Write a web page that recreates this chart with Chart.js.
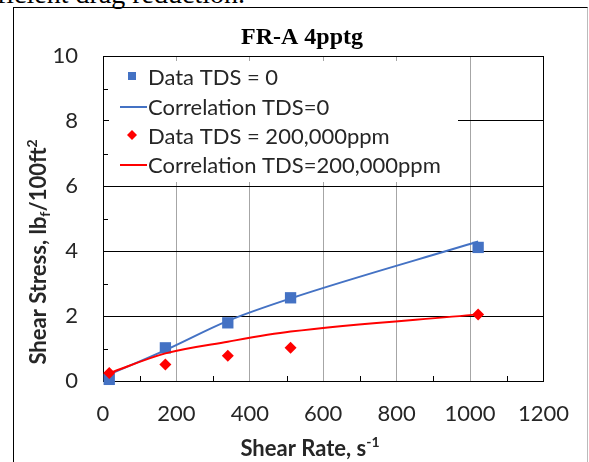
<!DOCTYPE html>
<html>
<head>
<meta charset="utf-8">
<script src="https://cdn.jsdelivr.net/npm/chart.js@4.4.1/dist/chart.umd.min.js"></script>
<style>
body { margin: 0; background: #fff; }
#wrap { position: relative; width: 589px; height: 462px; overflow: hidden; }
#above { position: absolute; top: -22px; left: 245px; transform: translateX(-100%); font: 28px "Liberation Serif"; white-space: nowrap; color: #000; }
#frame { position: absolute; left: 13px; top: 7px; width: 573px; height: 470px; border-left: 1px solid #000; border-top: 1px solid #000; border-right: 1px solid #bbb; }
#chart { position: absolute; left: 0; top: 0; }
</style>
</head>
<body>
<div id="wrap">
  <div id="above">efficient drag reduction.</div>
  <div id="frame"></div>
  <canvas id="chart" width="589" height="462"></canvas>
</div>
<script>
// values
const shearRate = [17, 170, 340, 511, 1022];
const dataTds0 = [0.05, 1.02, 1.79, 2.56, 4.11];
const corrTds0 = [0.2, 0.95, 1.85, 2.54, 4.29];
const dataTds200k = [0.25, 0.51, 0.78, 1.02, 2.05];
const corrTds200k = [0.24, 0.85, 1.21, 1.52, 2.05];

const seriesNames = ['Data TDS = 0', 'Correlation TDS=0', 'Data TDS = 200,000ppm', 'Correlation TDS=200,000ppm'];
const xTicks = [0, 200, 400, 600, 800, 1000, 1200];
const yTicks = [0, 2, 4, 6, 8, 10];
const xMinor = [100, 300, 500, 700, 900, 1100];
const yMinor = [1, 3, 5, 7, 9];

const blue = '#4472C4';
const red = '#FF0000';
const textColor = '#262626';

function points(ys) {
    return shearRate.map((x, i) => ({ x: x, y: ys[i] }));
}

// pieces of text that need sub/superscripts, drawn one after the other
function drawParts(ctx, parts, x, y) {
    let total = 0;
    parts.forEach(p => {
        ctx.font = p.font;
        p.w = ctx.measureText(p.text).width;
        total += p.w;
    });
    let cx = x - total / 2;
    parts.forEach(p => {
        ctx.font = p.font;
        ctx.fillText(p.text, cx, y + (p.dy || 0));
        cx += p.w;
    });
}

const decor = {
    id: 'decor',
    beforeDatasetsDraw(chart) {
        const ctx = chart.ctx;
        const xs = chart.scales.x;
        const ys = chart.scales.y;
        const area = chart.chartArea;
        ctx.save();

        // minor tick marks inside the plot
        ctx.strokeStyle = '#000';
        ctx.lineWidth = 1;
        ctx.beginPath();
        yMinor.forEach(v => {
            const py = Math.round(ys.getPixelForValue(v)) + 0.5;
            ctx.moveTo(area.left, py);
            ctx.lineTo(area.left + 5, py);
        });
        xMinor.forEach(v => {
            const px = Math.round(xs.getPixelForValue(v)) + 0.5;
            ctx.moveTo(px, area.bottom);
            ctx.lineTo(px, area.bottom - 5);
        });
        ctx.stroke();

        // legend with white background
        ctx.fillStyle = '#fff';
        ctx.fillRect(109, 61, 349, 121);

        const rows = [78, 108, 137, 166];
        ctx.fillStyle = blue;
        ctx.fillRect(128, rows[0] - 6, 8, 8);
        ctx.strokeStyle = blue;
        ctx.lineWidth = 2;
        ctx.beginPath();
        ctx.moveTo(120, rows[1] - 1);
        ctx.lineTo(147, rows[1] - 1);
        ctx.stroke();
        ctx.fillStyle = red;
        ctx.beginPath();
        ctx.moveTo(132, rows[2] - 7);
        ctx.lineTo(137, rows[2] - 2);
        ctx.lineTo(132, rows[2] + 3);
        ctx.lineTo(127, rows[2] - 2);
        ctx.closePath();
        ctx.fill();
        ctx.strokeStyle = red;
        ctx.beginPath();
        ctx.moveTo(120, rows[3] - 1);
        ctx.lineTo(147, rows[3] - 1);
        ctx.stroke();

        ctx.fillStyle = textColor;
        ctx.font = '22px Lato';
        ctx.textBaseline = 'middle';
        ctx.textAlign = 'left';
        seriesNames.forEach((name, i) => {
            ctx.fillText(name, 148, rows[i]);
        });
        ctx.restore();
    },
    afterDraw(chart) {
        const ctx = chart.ctx;
        ctx.save();
        ctx.fillStyle = '#000';
        ctx.font = 'bold 24px "Liberation Serif"';
        ctx.textAlign = 'center';
        ctx.textBaseline = 'middle';
        ctx.fillText('FR-A 4pptg', 302, 38);

        ctx.fillStyle = textColor;
        ctx.textAlign = 'left';
        ctx.textBaseline = 'alphabetic';
        drawParts(ctx, [
            { text: 'Shear Rate, s', font: 'bold 22px Lato' },
            { text: '-1', font: 'bold 14px Lato', dy: -9 }
        ], 310, 456);

        ctx.translate(46, 252);
        ctx.rotate(-Math.PI / 2);
        drawParts(ctx, [
            { text: 'Shear Stress, lb', font: 'bold 22px Lato' },
            { text: 'f', font: 'bold 14px Lato', dy: 4 },
            { text: '/100ft', font: 'bold 22px Lato' },
            { text: '2', font: 'bold 14px Lato', dy: -9 }
        ], 0, 0);
        ctx.restore();
    }
};

const ctx = document.getElementById('chart').getContext('2d');
const chart = new Chart(ctx, {
    type: 'scatter',
    data: {
        datasets: [{
            label: seriesNames[0],
            data: points(dataTds0),
            showLine: false,
            pointStyle: 'rect',
            pointRadius: 8,
            backgroundColor: blue,
            borderColor: blue,
            borderWidth: 0,
            clip: false,
            order: 4
        }, {
            label: seriesNames[1],
            data: points(corrTds0),
            showLine: true,
            pointRadius: 0,
            borderColor: blue,
            borderWidth: 2,
            cubicInterpolationMode: 'monotone',
            clip: false,
            order: 3
        }, {
            label: seriesNames[2],
            data: points(dataTds200k),
            showLine: false,
            pointStyle: 'rectRot',
            pointRadius: 6,
            backgroundColor: red,
            borderColor: red,
            borderWidth: 0,
            clip: false,
            order: 2
        }, {
            label: seriesNames[3],
            data: points(corrTds200k),
            showLine: true,
            pointRadius: 0,
            borderColor: red,
            borderWidth: 2,
            cubicInterpolationMode: 'monotone',
            clip: false,
            order: 1
        }]
    },
    options: {
        responsive: false,
        animation: false,
        layout: { padding: { left: 13, top: 56, right: 36, bottom: 0 } },
        plugins: {
            legend: { display: false },
            title: { display: false },
            tooltip: { enabled: false }
        },
        scales: {
            x: {
                type: 'linear',
                min: 0,
                max: 1200,
                afterBuildTicks: s => { s.ticks = xTicks.map(v => ({ value: v })); },
                afterFit: s => { s.height = 81; },
                grid: {
                    color: c => (c.tick && (c.tick.value === 0 || c.tick.value === 1200)) ? '#000' : '#a6a6a6',
                    drawTicks: false
                },
                border: { color: '#000' },
                ticks: {
                    padding: 20,
                    autoSkip: false,
                    maxRotation: 0,
                    color: textColor,
                    font: { family: 'Lato', size: 22 },
                    callback: v => String(v)
                }
            },
            y: {
                type: 'linear',
                min: 0,
                max: 10,
                afterBuildTicks: s => { s.ticks = yTicks.map(v => ({ value: v })); },
                afterFit: s => { s.width = 90; },
                grid: { color: '#000', drawTicks: false },
                border: { color: '#000' },
                ticks: {
                    padding: 25,
                    color: textColor,
                    font: { family: 'Lato', size: 22 },
                    callback: v => String(v)
                }
            }
        }
    },
    plugins: [decor]
});
</script>
</body>
</html>
